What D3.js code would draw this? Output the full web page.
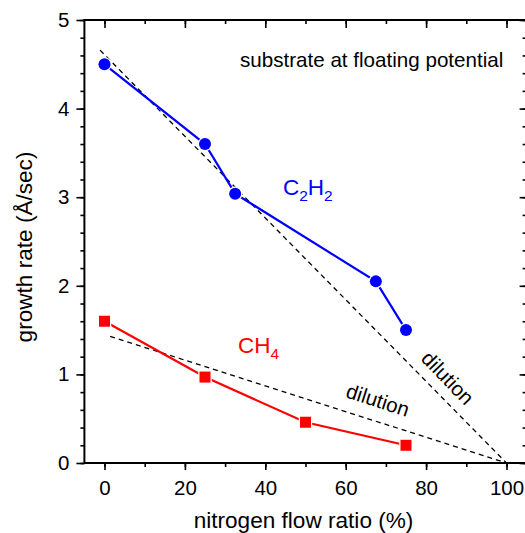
<!DOCTYPE html>
<html>
<head>
<meta charset="utf-8">
<script src="https://d3js.org/d3.v7.min.js"></script>
<style>
    body { margin: 0; background: #fff; }
    svg { display: block; font-family: "Liberation Sans", Arial, sans-serif; }
</style>
</head>
<body>
<svg width="525" height="533"></svg>
<script>
    // measured values
    var flowC2H2 = [0, 25, 32.5, 67.5, 75];
    var rateC2H2 = [4.5, 3.6, 3.04, 2.05, 1.5];
    var flowCH4 = [0, 25, 50, 75];
    var rateCH4 = [1.6, 0.97, 0.46, 0.2];
    // dilution reference lines (start, end)
    var dilutionC2H2 = [[-1.1, 4.66], [100, 0]];
    var dilutionCH4 = [[1.4, 1.43], [100, 0]];
    var xTicks = [0, 20, 40, 60, 80, 100];
    var yTicks = [0, 1, 2, 3, 4, 5];

    var width = 525, height = 533;
    var svg = d3.select('svg');

    var x = d3.scaleLinear().domain([-5, 105]).range([84.4, 526.6]);
    var y = d3.scaleLinear().domain([0, 5]).range([463, 20]);

    var minorX = d3.range(-0, 101, 10);
    var minorY = d3.range(0, 5.01, 0.2);

    function styleAxis(g) {
        g.select('.domain').remove();
        g.selectAll('.tick line').attr('stroke', '#000').attr('stroke-width', 1.6);
        g.selectAll('.tick text').attr('font-size', 20.5).attr('fill', '#000')
            .attr('font-family', '"Liberation Sans", Arial, sans-serif');
    }

    // bottom
    svg.append('g').attr('transform', `translate(0,${y(0)})`)
        .call(d3.axisBottom(x).tickValues(minorX).tickSize(4).tickFormat(''))
        .call(styleAxis);
    svg.append('g').attr('transform', `translate(0,${y(0)})`)
        .call(d3.axisBottom(x).tickValues(xTicks).tickSize(7).tickPadding(10).tickFormat(d3.format('d')))
        .call(styleAxis);
    // top (inward)
    svg.append('g').attr('transform', `translate(0,${y(5)})`)
        .call(d3.axisBottom(x).tickValues(minorX).tickSize(4).tickFormat(''))
        .call(styleAxis);
    svg.append('g').attr('transform', `translate(0,${y(5)})`)
        .call(d3.axisBottom(x).tickValues(xTicks).tickSize(8).tickFormat(''))
        .call(styleAxis);
    // left
    svg.append('g').attr('transform', `translate(${x(-5)},0)`)
        .call(d3.axisLeft(y).tickValues(minorY).tickSize(4).tickFormat(''))
        .call(styleAxis);
    svg.append('g').attr('transform', `translate(${x(-5)},0)`)
        .call(d3.axisLeft(y).tickValues(yTicks).tickSize(8).tickPadding(7).tickFormat(d3.format('d')))
        .call(styleAxis);
    // right (inward)
    svg.append('g').attr('transform', `translate(${x(105)},0)`)
        .call(d3.axisLeft(y).tickValues(minorY).tickSize(4).tickFormat(''))
        .call(styleAxis);
    svg.append('g').attr('transform', `translate(${x(105)},0)`)
        .call(d3.axisLeft(y).tickValues(yTicks).tickSize(7).tickFormat(''))
        .call(styleAxis);

    // frame
    svg.append('rect')
        .attr('x', x(-5)).attr('y', y(5))
        .attr('width', x(105) - x(-5)).attr('height', y(0) - y(5))
        .attr('fill', 'none').attr('stroke', '#000').attr('stroke-width', 2);

    // axis titles
    svg.append('text')
        .attr('x', (x(-5) + x(105)) / 2 - 2).attr('y', 528)
        .attr('text-anchor', 'middle').attr('font-size', 22.6)
        .text('nitrogen flow ratio (%)');
    svg.append('text')
        .attr('transform', 'translate(32,247) rotate(-90)')
        .attr('text-anchor', 'middle').attr('font-size', 22.6)
        .text('growth rate (Å/sec)');

    // dilution lines
    var line = d3.line().x(d => x(d[0])).y(d => y(d[1]));
    [dilutionC2H2, dilutionCH4].forEach(function(d) {
        svg.append('path').attr('d', line(d))
            .attr('fill', 'none').attr('stroke', '#000')
            .attr('stroke-width', 1.3).attr('stroke-dasharray', '5,4');
    });

    // series
    var c2h2 = flowC2H2.map((f, i) => [f, rateC2H2[i]]);
    var ch4 = flowCH4.map((f, i) => [f, rateCH4[i]]);

    svg.append('path').attr('d', line(c2h2))
        .attr('fill', 'none').attr('stroke', '#0000ff').attr('stroke-width', 2.2);
    svg.append('path').attr('d', line(ch4))
        .attr('fill', 'none').attr('stroke', '#ff0000').attr('stroke-width', 2.2);

    svg.append('g').selectAll('circle').data(c2h2).join('circle')
        .attr('cx', d => x(d[0])).attr('cy', d => y(d[1])).attr('r', 6)
        .attr('fill', '#0000ff').attr('stroke', '#fff').attr('stroke-width', 2.5)
        .attr('paint-order', 'stroke');
    svg.append('g').selectAll('rect').data(ch4).join('rect')
        .attr('x', d => x(d[0]) - 5.5).attr('y', d => y(d[1]) - 5.5)
        .attr('width', 11).attr('height', 11)
        .attr('fill', '#ff0000').attr('stroke', '#fff').attr('stroke-width', 2.5)
        .attr('paint-order', 'stroke');

    // annotations
    svg.append('text')
        .attr('x', x(33.7)).attr('y', y(4.47))
        .attr('font-size', 20.6).text('substrate at floating potential');

    var t1 = svg.append('text').attr('x', x(44.4)).attr('y', y(3.02))
        .attr('font-size', 22.5).attr('fill', '#0000ff');
    t1.append('tspan').text('C');
    t1.append('tspan').attr('dy', 6).attr('font-size', 15.5).text('2');
    t1.append('tspan').attr('dy', -6).text('H');
    t1.append('tspan').attr('dy', 6).attr('font-size', 15.5).text('2');

    var t2 = svg.append('text').attr('x', x(33.2)).attr('y', y(1.24))
        .attr('font-size', 22.5).attr('fill', '#ff0000');
    t2.append('tspan').text('CH');
    t2.append('tspan').attr('dy', 6).attr('font-size', 15.5).text('4');

    svg.append('text')
        .attr('transform', `translate(${x(68.0)},${y(0.71)}) rotate(18)`)
        .attr('text-anchor', 'middle').attr('dy', '0.35em')
        .attr('font-size', 20.5).text('dilution');
    svg.append('text')
        .attr('transform', `translate(${x(85.4)},${y(0.96)}) rotate(46)`)
        .attr('text-anchor', 'middle').attr('dy', '0.35em')
        .attr('font-size', 20.5).text('dilution');
</script>
</body>
</html>
